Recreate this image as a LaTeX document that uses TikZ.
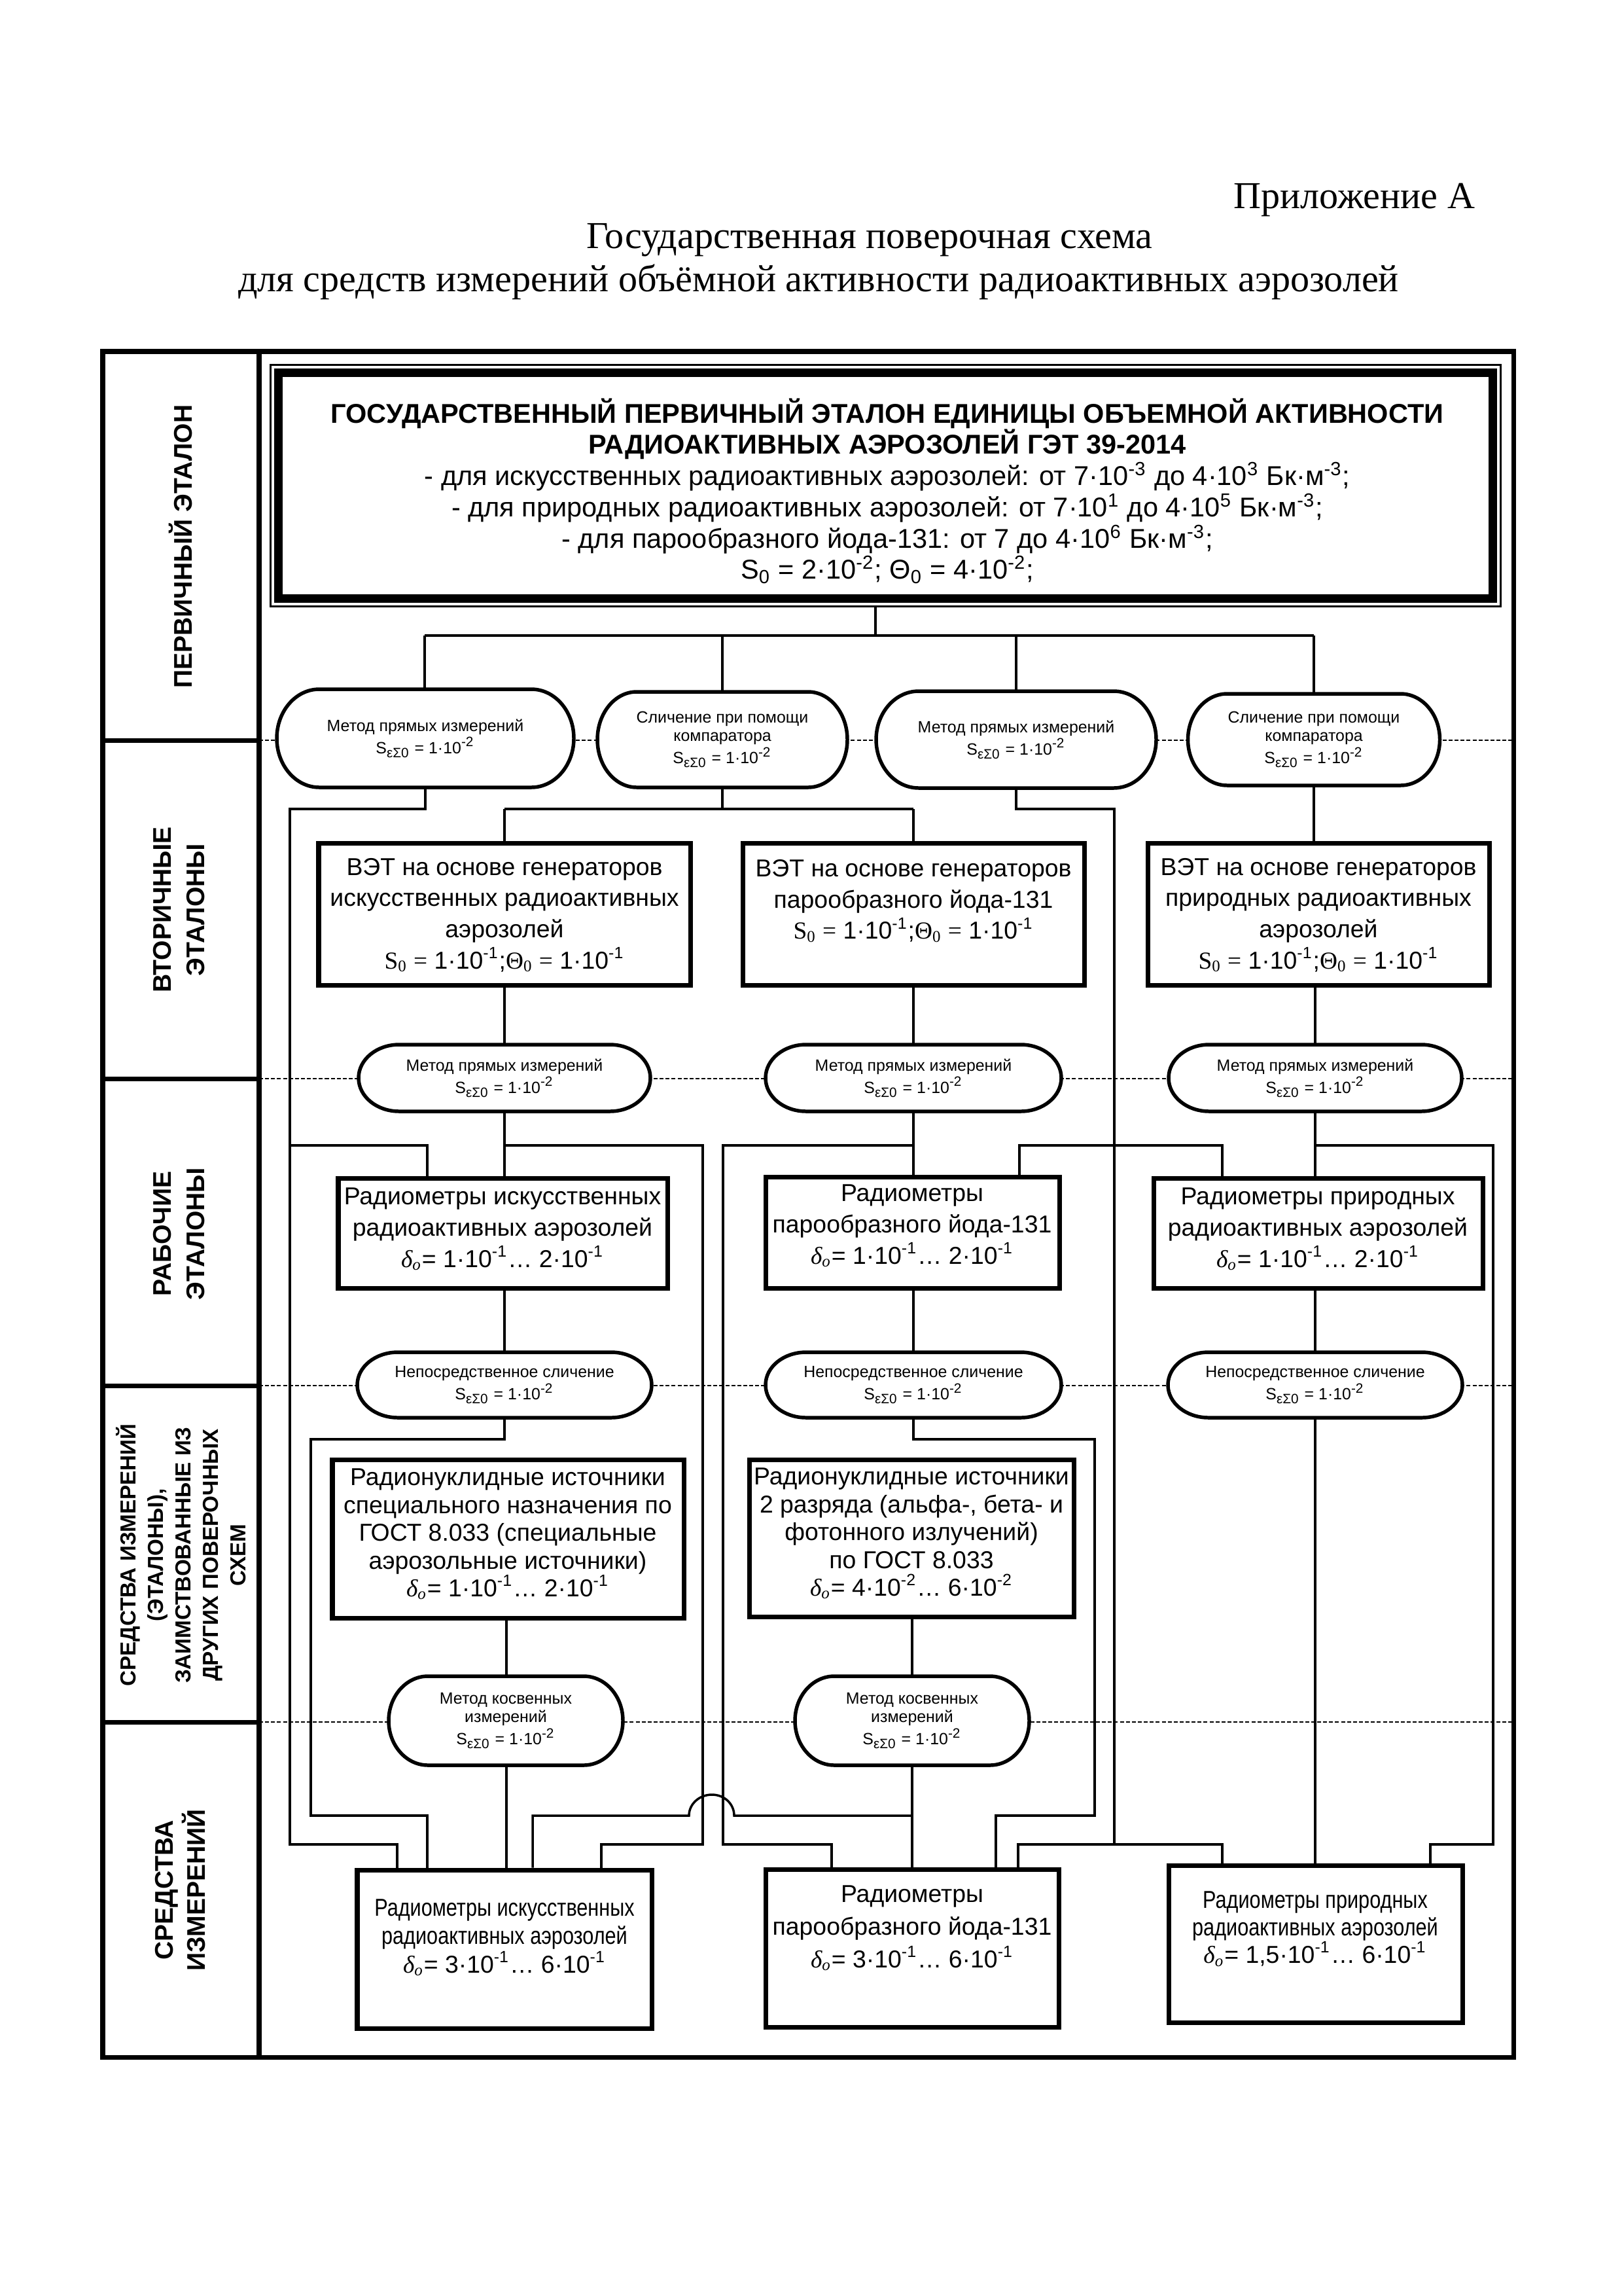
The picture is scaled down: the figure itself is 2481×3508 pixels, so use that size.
\documentclass[tikz,border=0pt]{standalone}
\usepackage{fontspec}
\setmainfont{Liberation Sans}
\newfontfamily\tms{Liberation Serif}
\newfontfamily\condf{Liberation Sans}[FakeStretch=0.82]
\usetikzlibrary{calc}
\def\PX{*0.084643mm}
\newcommand\sps[1]{\textsuperscript{#1}}
\newcommand\sbs[1]{\textsubscript{#1}}
\newcommand\Seps{S\sbs{εΣ0}}
\newcommand\dlt{{\tms\itshape δ\sbs{o}}}
\tikzset{
  frameline/.style={line width=1.69pt},
  conn/.style={line width=0.84pt},
  dashl/.style={line width=0.48pt, dash pattern=on 1.45pt off 0.75pt},
  boxs/.style={draw, line width=1.69pt, fill=white, inner sep=0pt},
  stadline/.style={line width=1.32pt, fill=white},
  stadtext/.style={inner sep=0pt, align=center, font=\fontsize{6}{6.8}\selectfont},
  btext/.style={align=center, inner sep=0pt, font=\fontsize{9}{11.5}\selectfont},
  lbl/.style={rotate=90, align=center, inner sep=0pt, font=\bfseries\fontsize{9.4}{12.3}\selectfont},
}
\newcommand\stad[7]{%
 \pgfmathsetmacro\stXa{#2-#4/2}%
 \pgfmathsetmacro\stXb{#2+#4/2}%
 \pgfmathsetmacro\stYa{#3-#5/2}%
 \pgfmathsetmacro\stYb{#3+#5/2}%
 \pgfmathsetmacro\stKx{0.5523*#6}%
 \pgfmathsetmacro\stKy{0.5523*#5/2}%
 \draw[stadline] (\stXa+#6,\stYa) -- (\stXb-#6,\stYa)
   .. controls (\stXb-#6+\stKx,\stYa) and (\stXb,#3-\stKy) .. (\stXb,#3)
   .. controls (\stXb,#3+\stKy) and (\stXb-#6+\stKx,\stYb) .. (\stXb-#6,\stYb)
   -- (\stXa+#6,\stYb)
   .. controls (\stXa+#6-\stKx,\stYb) and (\stXa,#3+\stKy) .. (\stXa,#3)
   .. controls (\stXa,#3-\stKy) and (\stXa+#6-\stKx,\stYa) .. (\stXa+#6,\stYa) -- cycle;
 \node[stadtext, minimum width=#4\PX, minimum height=#5\PX] (#1) at (#2,#3) {#7};
}
\newcommand\bx[5]{\node[boxs, minimum width=#4\PX, minimum height=#5\PX] (#1) at (#2,#3) {};}
\begin{document}
\begin{tikzpicture}[x=0.084643mm, y=-0.084643mm]
\useasboundingbox (0,0) rectangle (2481,3508);
% ---------- title ----------
\node[anchor=base east, inner sep=0pt, font=\tms\fontsize{14}{16}\selectfont] (ttl1) at (2255,318) {Приложение А};
\node[anchor=base, inner sep=0pt, font=\tms\fontsize{14}{16}\selectfont] (ttl2) at (1329,379) {Государственная поверочная схема};
\node[anchor=base, inner sep=0pt, font=\tms\fontsize{14}{16}\selectfont] (ttl3) at (1251,445) {для средств измерений объёмной активности радиоактивных аэрозолей};
% ---------- frame ----------
\draw[frameline] (157,537) rectangle (2313,3143);
\draw[frameline] (396,537) -- (396,3143);
\foreach \yy in {1131,1648,2117,2631} {
  \draw[frameline] (157,\yy) -- (396,\yy);
  \draw[dashl] (396,\yy) -- (2313,\yy);
}
\node[lbl] (L1) at (276,835) {ПЕРВИЧНЫЙ ЭТАЛОН};
\node[lbl] (L2) at (274,1390) {ВТОРИЧНЫЕ\\ЭТАЛОНЫ};
\node[lbl] (L3) at (274,1885) {РАБОЧИЕ\\ЭТАЛОНЫ};
\node[lbl, font=\bfseries\fontsize{8}{10.1}\selectfont] (L4) at (277,2376) {СРЕДСТВА ИЗМЕРЕНИЙ\\(ЭТАЛОНЫ),\\ЗАИМСТВОВАННЫЕ ИЗ\\ДРУГИХ ПОВЕРОЧНЫХ\\СХЕМ};
\node[lbl, font=\bfseries\fontsize{9.4}{11.8}\selectfont] (L5) at (276,2888) {СРЕДСТВА\\ИЗМЕРЕНИЙ};
% ---------- helper coordinates ----------
\coordinate (hb) at (0,971);
\coordinate (h1) at (0,1236);
\coordinate (h2) at (0,1750);
\coordinate (h3) at (0,2199);
\coordinate (h4) at (0,2774);
\coordinate (h5) at (0,2818);
\coordinate (t0) at (1338,971);
\coordinate (L443) at (443,0);
\coordinate (L475) at (475,0);
\coordinate (L1074) at (1074,0);
\coordinate (L1105) at (1105,0);
\coordinate (L1673) at (1673,0);
\coordinate (L1703) at (1703,0);
\coordinate (L2282) at (2282,0);
\coordinate (d607) at (607,0);
\coordinate (d653) at (653,0);
\coordinate (d814) at (814,0);
\coordinate (d919) at (919,0);
\coordinate (d1271) at (1271,0);
\coordinate (d1522) at (1522,0);
\coordinate (d1556) at (1556,0);
\coordinate (d1868) at (1868,0);
\coordinate (d2186) at (2186,0);
\coordinate (jmpR) at (1122,2774);
\coordinate (jmpT) at (1088,2742);
\coordinate (jmpL) at (1053,2774);
% ---------- main box ----------
\node[inner sep=0pt, minimum width=1879\PX, minimum height=368\PX] (MB) at (1353.5,742) {};
\draw[line width=0.7pt] (MB.north west) rectangle (MB.south east);
\draw[line width=3.13pt] ($(MB.north west)+(12,12)$) rectangle ($(MB.south east)+(-12,-12)$);
\node[align=center, inner sep=0pt, font=\fontsize{10}{11.5}\selectfont] (MBt) at (1356,750)
 {\textbf{ГОСУДАРСТВЕННЫЙ ПЕРВИЧНЫЙ ЭТАЛОН ЕДИНИЦЫ ОБЪЕМНОЙ АКТИВНОСТИ}\\
  \textbf{РАДИОАКТИВНЫХ АЭРОЗОЛЕЙ ГЭТ 39-2014}\\
  - для искусственных радиоактивных аэрозолей: от 7·10\sps{-3} до 4·10\sps{3} Бк·м\sps{-3};\\
  - для природных радиоактивных аэрозолей: от 7·10\sps{1} до 4·10\sps{5} Бк·м\sps{-3};\\
  - для парообразного йода-131: от 7 до 4·10\sps{6} Бк·м\sps{-3};\\
  S\sbs{0} = 2·10\sps{-2}; Θ\sbs{0} = 4·10\sps{-2};};
% ---------- boxes ----------
\bx{V1}{771}{1396.5}{568}{217}
\bx{V2}{1396}{1396.5}{522}{217}
\bx{V3}{2015}{1396.5}{522}{217}
\bx{R1}{768.5}{1884}{503}{168}
\bx{R2}{1394.5}{1883}{449}{170}
\bx{R3}{2014.5}{1884}{503}{168}
\bx{RN1}{776.5}{2351}{537}{242}
\bx{RN2}{1393}{2350}{496}{240}
\bx{R41}{771}{2978}{450}{242}
\bx{R42}{1394}{2976.5}{448}{241}
\bx{R43}{2010.5}{2970}{449}{240}
% ---------- connectors ----------
\draw[conn] (MB.south -| t0) -- (t0);
\draw[conn] (t0 -| 649,0) -- (t0 -| 2008,0);
\draw[conn] (649,971) -- (649,1053);
\draw[conn] (1104,971) -- (1104,1057);
\draw[conn] (1553,971) -- (1553,1056);
\draw[conn] (2008,971) -- (2008,1060);
% row 1 -> row 2
\draw[conn] (650,1200) -- (650,1236) -- (L443 |- h1) -- (L443 |- h5) -- (d607 |- h5) -- (d607 |- R41.north);
\draw[conn] (1104,1200) -- (1104,1236);
\draw[conn] (V1.north |- h1) -- (V2.north |- h1);
\draw[conn] (V1.north |- h1) -- (V1.north);
\draw[conn] (V2.north |- h1) -- (V2.north);
\draw[conn] (1553,1200) -- (1553,1236) -- (L1703 |- h1) -- (L1703 |- h5);
\draw[conn] (2008,1198) -- (2008,1288);
% V -> M
\draw[conn] (771,1505) -- (771,1597);
\draw[conn] (1396,1505) -- (1396,1597);
\draw[conn] (2010,1505) -- (2010,1597);
% below M
\draw[conn] (L443 |- h2) -- (d653 |- h2) -- (d653 |- R1.north);
\draw[conn] (771,1697) -- (771,1800);
\draw[conn] (771,1750) -- (L1074 |- h2) -- (L1074 |- h5) -- (d919 |- h5) -- (d919 |- R41.north);
\draw[conn] (1396,1697) -- (1396,1798);
\draw[conn] (1396,1750) -- (L1105 |- h2) -- (L1105 |- h5) -- (d1271 |- h5) -- (d1271 |- R42.north);
\draw[conn] (1558,1798) -- (1558,1750) -- (1868,1750) -- (1868,1800);
\draw[conn] (2010,1697) -- (2010,1800);
\draw[conn] (2010,1750) -- (L2282 |- h2) -- (L2282 |- h5) -- (d2186 |- h5) -- (d2186 |- R43.north);
% R -> N
\draw[conn] (771,1968) -- (771,2066);
\draw[conn] (1396,1968) -- (1396,2066);
\draw[conn] (2010,1968) -- (2010,2066);
% below N
\draw[conn] (771,2166) -- (771,2199) -- (L475 |- h3) -- (L475 |- h4) -- (d653 |- h4) -- (d653 |- R41.north);
\draw[conn] (1396,2166) -- (1396,2199) -- (L1673 |- h3) -- (L1673 |- h4) -- (d1522 |- h4) -- (d1522 |- R42.north);
\draw[conn] (2010,2166) -- (2010 ,2850);
% RN -> K
\draw[conn] (RN1.south -| 774,0) -- (774,2562);
\draw[conn] (RN2.south -| 1394,0) -- (1394,2562);
% K -> bottom
\draw[conn] (774,2697) -- (774,2857);
\draw[conn] (1394,2697) -- (1394,2856);
\draw[conn] (1394,2774) -- (jmpR) .. controls +(0,-18) and +(19,0) .. (jmpT) .. controls +(-19,0) and +(0,-18) .. (jmpL) -- (d814 |- h4) -- (d814 |- R41.north);
\draw[conn] (d1556 |- R42.north) -- (d1556 |- h5) -- (d1868 |- h5) -- (d1868 |- R43.north);
% ---------- stadiums ----------
\stad{E1}{650}{1128}{454}{150}{65}{Метод прямых измерений\\\Seps{} = 1·10\sps{-2}}
\stad{E2}{1104}{1130}{382}{146}{60}{Сличение при помощи\\компаратора\\\Seps{} = 1·10\sps{-2}}
\stad{E3}{1553}{1130}{428}{148}{65}{Метод прямых измерений\\\Seps{} = 1·10\sps{-2}}
\stad{E4}{2008}{1130}{385}{140}{60}{Сличение при помощи\\компаратора\\\Seps{} = 1·10\sps{-2}}
\stad{M1}{771}{1647}{446}{102}{62}{Метод прямых измерений\\\Seps{} = 1·10\sps{-2}}
\stad{M2}{1396}{1647}{452}{102}{62}{Метод прямых измерений\\\Seps{} = 1·10\sps{-2}}
\stad{M3}{2010}{1647}{448}{102}{62}{Метод прямых измерений\\\Seps{} = 1·10\sps{-2}}
\stad{N1}{771}{2116}{450}{100}{62}{Непосредственное сличение\\\Seps{} = 1·10\sps{-2}}
\stad{N2}{1396}{2116}{452}{100}{62}{Непосредственное сличение\\\Seps{} = 1·10\sps{-2}}
\stad{N3}{2010}{2116}{450}{100}{62}{Непосредственное сличение\\\Seps{} = 1·10\sps{-2}}
\stad{K1}{773}{2629}{358}{136}{60}{Метод косвенных\\измерений\\\Seps{} = 1·10\sps{-2}}
\stad{K2}{1394}{2629}{358}{136}{60}{Метод косвенных\\измерений\\\Seps{} = 1·10\sps{-2}}
% ---------- box texts ----------
\node[btext] (V1t) at (771,1398) {ВЭТ на основе генераторов\\искусственных радиоактивных\\аэрозолей\\{\tms S\sbs{0} =} 1·10\sps{-1};{\tms Θ\sbs{0} =} 1·10\sps{-1}};
\node[btext] (V2t) at (1396,1398) {ВЭТ на основе генераторов\\парообразного йода-131\\{\tms S\sbs{0} =} 1·10\sps{-1};{\tms Θ\sbs{0} =} 1·10\sps{-1}\\~};
\node[btext] (V3t) at (2015,1398) {ВЭТ на основе генераторов\\природных радиоактивных\\аэрозолей\\{\tms S\sbs{0} =} 1·10\sps{-1};{\tms Θ\sbs{0} =} 1·10\sps{-1}};
\node[btext] (R1t) at (768,1878) {Радиометры искусственных\\радиоактивных аэрозолей\\\dlt= 1·10\sps{-1}… 2·10\sps{-1}};
\node[btext] (R2t) at (1394,1873) {Радиометры\\парообразного йода-131\\\dlt= 1·10\sps{-1}… 2·10\sps{-1}};
\node[btext] (R3t) at (2014,1878) {Радиометры природных\\радиоактивных аэрозолей\\\dlt= 1·10\sps{-1}… 2·10\sps{-1}};
\node[btext, font=\fontsize{9}{10.2}\selectfont] (RN1t) at (776,2344) {Радионуклидные источники\\специального назначения по\\ГОСТ 8.033 (специальные\\аэрозольные источники)\\\dlt= 1·10\sps{-1}… 2·10\sps{-1}};
\node[btext, font=\fontsize{9}{10.2}\selectfont] (RN2t) at (1393,2343) {Радионуклидные источники\\2 разряда (альфа-, бета- и\\фотонного излучений)\\по ГОСТ 8.033\\\dlt= 4·10\sps{-2}… 6·10\sps{-2}};
\node[btext, font=\fontsize{9}{10.5}\selectfont] (R41t) at (771,2960) {{\condf Радиометры искусственных}\\{\condf радиоактивных аэрозолей}\\\dlt= 3·10\sps{-1}… 6·10\sps{-1}};
\node[btext, font=\fontsize{9}{12}\selectfont] (R42t) at (1394,2946) {Радиометры\\парообразного йода-131\\\dlt= 3·10\sps{-1}… 6·10\sps{-1}};
\node[btext, font=\fontsize{9}{10.2}\selectfont] (R43t) at (2010,2947) {{\condf Радиометры природных}\\{\condf радиоактивных аэрозолей}\\\dlt= 1,5·10\sps{-1}… 6·10\sps{-1}};
\end{tikzpicture}
\end{document}
